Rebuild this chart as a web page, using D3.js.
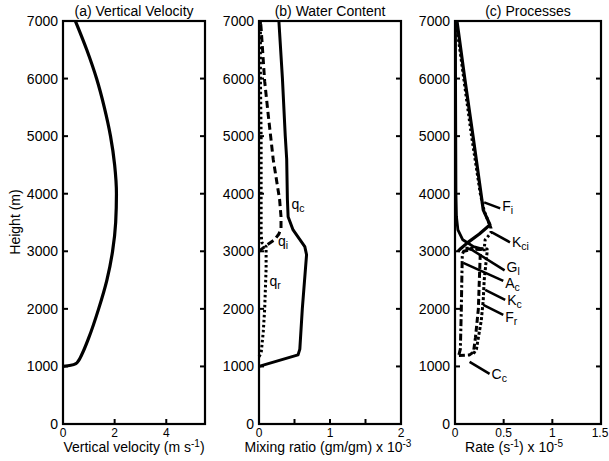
<!DOCTYPE html>
<html>
<head>
<meta charset="utf-8">
<script src="https://cdn.jsdelivr.net/npm/d3@7"></script>
<style>
  html, body { margin: 0; padding: 0; background: #fff; }
  svg { display: block; font-family: "Liberation Sans", Arial, Helvetica, sans-serif; }
  text { fill: #000; }
</style>
</head>
<body>
<svg id="chart" width="609" height="461"></svg>
<script>
// ---- shared vertical axis ----
const heightTicks = [0, 1000, 2000, 3000, 4000, 5000, 6000, 7000];

// ---- (a) vertical velocity, m/s ----
const wHeight = [1000, 1020, 1050, 1100, 1200, 1500, 2000, 2500, 3000, 3500, 4000, 4500, 5000, 5500, 6000, 6500, 7000];
const wSpeed  = [0, 0.3, 0.5, 0.6, 0.72, 1.0, 1.38, 1.7, 1.92, 2.04, 2.07, 2.0, 1.84, 1.6, 1.3, 0.92, 0.48];
const wTicks = [0, 2, 4];

// ---- (b) water content, mixing ratio x 1e-3 ----
const qcHeight = [1000, 1200, 1300, 2000, 2940, 3080, 3370, 3600, 3900, 4600, 5000, 6000, 7000];
const qcValue  = [0, 0.55, 0.575, 0.61, 0.67, 0.645, 0.48, 0.41, 0.40, 0.39, 0.37, 0.33, 0.28];
const qiHeight = [3000, 3050, 3100, 3200, 3300, 3400, 3600, 3900, 4600, 5370, 5950, 6870, 7000];
const qiValue  = [0, 0.05, 0.1, 0.22, 0.28, 0.31, 0.31, 0.29, 0.2, 0.13, 0.08, 0.03, 0.02];
const qrHeight = [1170, 1230, 1600, 2000, 2700, 3080, 3150, 3300, 4000, 5000, 6000, 7000];
const qrValue  = [0, 0.03, 0.06, 0.08, 0.1, 0.1, 0.04, 0.03, 0.03, 0.03, 0.02, 0.02];
const qTicks = [0, 0.5, 1, 1.5, 2];
const qTickLabels = ["0", "", "1", "", "2"];

// ---- (c) process rates, s^-1 x 1e-5 ----
const fiHeight  = [3000, 3050, 3150, 3300, 3460, 3720, 5000, 6000, 7000];
const fiRate    = [0.03, 0.06, 0.13, 0.25, 0.36, 0.29, 0.185, 0.1, 0.02];
const glHeight  = [3035, 3080, 3200, 3370, 3600, 4000, 5000, 6000, 7000];
const glRate    = [0.29, 0.19, 0.08, 0.03, 0.015, 0.01, 0.008, 0.006, 0.005];
const kciHeight = [3000, 3050, 3200, 3320, 3400, 3700, 4000, 5000, 6000, 7000];
const kciRate   = [0.3, 0.3, 0.31, 0.37, 0.37, 0.3, 0.26, 0.17, 0.09, 0.01];
const acHeight  = [1200, 1300, 2000, 2500, 2950, 3000, 3040];
const acRate    = [0.04, 0.055, 0.065, 0.07, 0.075, 0.09, 0.18];
const kcHeight  = [1190, 1200, 1250, 1500, 2000, 2500, 2965, 3030, 3045];
const kcRate    = [0.04, 0.15, 0.19, 0.21, 0.24, 0.25, 0.26, 0.26, 0.1];
const frHeight  = [1220, 1300, 1500, 1800, 2150, 2500, 2990, 3040, 3055];
const frRate    = [0.19, 0.22, 0.24, 0.27, 0.29, 0.3, 0.33, 0.33, 0.1];
const rateTicks = [0, 0.5, 1, 1.5];
const rateTickLabels = ["0", "0.5", "1", "1.5"];

// curve labels: name, subscript, anchor point (value, height), offset in px
const waterLabels = [
  { name: "q", sub: "c", value: 0.40, height: 3800, dx: 4, dy: 4 },
  { name: "q", sub: "i", value: 0.28, height: 3250, dx: -1, dy: 9 },
  { name: "q", sub: "r", value: 0.12, height: 2550, dx: 2, dy: 9 }
];
const processLabels = [
  { name: "F", sub: "i",  value: 0.30,  height: 3850, lx: 16, ly: 6,  ty: 3 },
  { name: "K", sub: "ci", value: 0.38,  height: 3330, lx: 18, ly: 10, ty: 5 },
  { name: "G", sub: "l",  value: 0.15,  height: 3050, lx: 35, ly: 22, ty: 2 },
  { name: "A", sub: "c",  value: 0.085, height: 2800, lx: 40, ly: 18, ty: 7 },
  { name: "K", sub: "c",  value: 0.31,  height: 2330, lx: 20, ly: 10, ty: 5 },
  { name: "F", sub: "r",  value: 0.29,  height: 2070, lx: 20, ly: 10, ty: 7 },
  { name: "C", sub: "c",  value: 0.15,  height: 1080, lx: 20, ly: 12, ty: 5 }
];

const svg = d3.select("#chart");
const plotTop = 21, plotBottom = 424;
const y = d3.scaleLinear().domain([0, 7000]).range([plotBottom, plotTop]);

function panel(x, title, xTicks, xTickLabels, titleParts, titleCenter) {
  const [x0, x1] = x.range();
  const g = svg.append("g");
  // inward ticks, left and right
  heightTicks.forEach(h => {
    if (h === 0 || h === 7000) return;
    g.append("line").attr("x1", x0).attr("x2", x0 + 5).attr("y1", y(h)).attr("y2", y(h))
      .attr("stroke", "#000").attr("stroke-width", 2);
    g.append("line").attr("x1", x1).attr("x2", x1 - 5).attr("y1", y(h)).attr("y2", y(h))
      .attr("stroke", "#000").attr("stroke-width", 2);
  });
  xTicks.forEach(v => {
    if (v === x.domain()[0] || v === x.domain()[1]) return;
    g.append("line").attr("x1", x(v)).attr("x2", x(v)).attr("y1", plotBottom).attr("y2", plotBottom - 5)
      .attr("stroke", "#000").attr("stroke-width", 2);
  });
  // y tick labels
  g.selectAll("text.yt").data(heightTicks).join("text")
    .attr("class", "yt")
    .attr("x", x0 - 5).attr("y", d => y(d) + 5)
    .attr("text-anchor", "end").attr("font-size", 14).text(d => d);
  // x tick labels; the one at the far right edge of the figure is kept inside it
  g.selectAll("text.xt").data(xTicks).join("text")
    .attr("class", "xt")
    .attr("x", d => Math.min(x(d), 600))
    .attr("y", 437)
    .attr("text-anchor", "middle").attr("font-size", 12)
    .text((d, i) => xTickLabels[i]);
  // title
  g.append("text").attr("x", (x0 + x1) / 2).attr("y", 16)
    .attr("text-anchor", "middle").attr("font-size", 14).text(title);
  // x-axis title with superscripts
  const t = g.append("text").attr("x", titleCenter).attr("y", 452)
    .attr("text-anchor", "middle").attr("font-size", 14);
  let raised = false;
  titleParts.forEach(p => {
    if (p.sup) {
      t.append("tspan").attr("font-size", 10).attr("dy", -5).text(p.sup);
      raised = true;
    } else {
      t.append("tspan").attr("dy", raised ? 5 : 0).text(p.text);
      raised = false;
    }
  });
  return g;
}

function frame(x) {
  const [x0, x1] = x.range();
  svg.append("rect").attr("x", x0).attr("y", plotTop).attr("width", x1 - x0).attr("height", plotBottom - plotTop)
    .attr("fill", "none").attr("stroke", "#000").attr("stroke-width", 2.2);
}

function profile(g, x, heights, values, opts) {
  const pts = heights.map((h, i) => [values[i], h]);
  const line = d3.line().x(d => x(d[0])).y(d => y(d[1])).curve(opts.curve || d3.curveLinear);
  g.append("path").datum(pts).attr("d", line)
    .attr("fill", "none").attr("stroke", "#000")
    .attr("stroke-width", opts.width || 3)
    .attr("stroke-dasharray", opts.dash || null)
    .attr("stroke-linejoin", "round");
}

function subLabel(g, px, py, name, sub) {
  const t = g.append("text").attr("x", px).attr("y", py).attr("font-size", 14);
  t.append("tspan").text(name);
  t.append("tspan").attr("font-size", 10.5).attr("dy", 3).text(sub);
}

// ---- panel (a)
const xa = d3.scaleLinear().domain([0, 5.5]).range([63, 205]);
const ga = panel(xa, "(a) Vertical Velocity", wTicks, wTicks.map(String),
  [{ text: "Vertical velocity (m s" }, { sup: "-1" }, { text: ")" }], 134);
profile(ga, xa, wHeight, wSpeed, { width: 3.2, curve: d3.curveMonotoneY });
frame(xa);
svg.append("text").attr("transform", "translate(20,222) rotate(-90)")
  .attr("text-anchor", "middle").attr("font-size", 14).text("Height (m)");

// ---- panel (b)
const xb = d3.scaleLinear().domain([0, 2]).range([259, 401]);
const gb = panel(xb, "(b) Water Content", qTicks, qTickLabels,
  [{ text: "Mixing ratio (gm/gm) x 10" }, { sup: "-3" }], 328);
profile(gb, xb, qcHeight, qcValue, { width: 3 });
profile(gb, xb, qiHeight, qiValue, { width: 3, dash: "7,4" });
profile(gb, xb, qrHeight, qrValue, { width: 3, dash: "2.5,2.5" });
frame(xb);
waterLabels.forEach(l => subLabel(gb, xb(l.value) + l.dx, y(l.height) + l.dy, l.name, l.sub));

// ---- panel (c)
const xc = d3.scaleLinear().domain([0, 1.5]).range([455, 601]);
const gc = panel(xc, "(c) Processes", rateTicks, rateTickLabels,
  [{ text: "Rate (s" }, { sup: "-1" }, { text: ") x 10" }, { sup: "-5" }], 514);
profile(gc, xc, glHeight, glRate, { width: 2.8 });
profile(gc, xc, kciHeight, kciRate, { width: 3, dash: "2.5,2.5" });
profile(gc, xc, fiHeight, fiRate, { width: 3.2 });
profile(gc, xc, acHeight, acRate, { width: 3, dash: "7,2.5,2.5,2.5" });
profile(gc, xc, kcHeight, kcRate, { width: 3, dash: "6,3" });
profile(gc, xc, frHeight, frRate, { width: 3, dash: "3,2" });
frame(xc);
processLabels.forEach(l => {
  const ax = xc(l.value), ay = y(l.height);
  gc.append("line").attr("x1", ax).attr("y1", ay).attr("x2", ax + l.lx).attr("y2", ay + l.ly)
    .attr("stroke", "#000").attr("stroke-width", 2.5);
  subLabel(gc, ax + l.lx + 2, ay + l.ly + l.ty, l.name, l.sub);
});
</script>
</body>
</html>
